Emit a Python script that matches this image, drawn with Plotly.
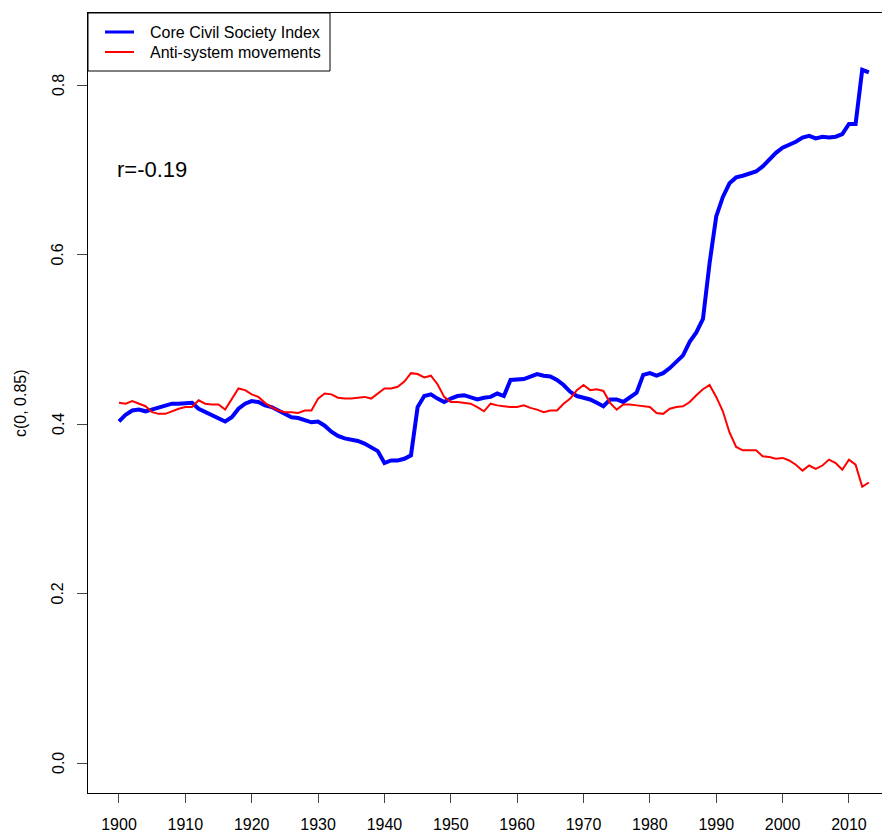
import plotly.graph_objects as go

years = list(range(1900, 2014))

core_civil_society = [
    0.403, 0.411, 0.416, 0.417, 0.415, 0.417, 0.419, 0.421, 0.424, 0.424,  # 1900-1909
    0.424, 0.425, 0.418, 0.414, 0.410, 0.406, 0.403, 0.408, 0.418, 0.424,  # 1910-1919
    0.427, 0.426, 0.422, 0.420, 0.416, 0.411, 0.408, 0.407, 0.405, 0.402,  # 1920-1929
    0.403, 0.398, 0.391, 0.386, 0.383, 0.382, 0.380, 0.377, 0.373, 0.368,  # 1930-1939
    0.354, 0.357, 0.357, 0.359, 0.363, 0.420, 0.433, 0.435, 0.430, 0.426,  # 1940-1949
    0.430, 0.433, 0.434, 0.432, 0.429, 0.431, 0.432, 0.436, 0.433, 0.452,  # 1950-1959
    0.452, 0.453, 0.456, 0.459, 0.457, 0.456, 0.452, 0.446, 0.438, 0.433,  # 1960-1969
    0.431, 0.429, 0.425, 0.421, 0.429, 0.429, 0.426, 0.431, 0.437, 0.458,  # 1970-1979
    0.460, 0.457, 0.460, 0.466, 0.473, 0.481, 0.497, 0.508, 0.524, 0.590,  # 1980-1989
    0.645, 0.668, 0.684, 0.691, 0.693, 0.696, 0.698, 0.704, 0.712, 0.720,  # 1990-1999
    0.726, 0.729, 0.733, 0.738, 0.740, 0.737, 0.739, 0.738, 0.739, 0.742,  # 2000-2009
    0.754, 0.754, 0.818, 0.815,                                            # 2010-2013
]

anti_system = [
    0.425, 0.424, 0.427, 0.424, 0.421, 0.414, 0.412, 0.412, 0.415, 0.418,  # 1900-1909
    0.420, 0.420, 0.428, 0.424, 0.423, 0.423, 0.417, 0.430, 0.442, 0.440,  # 1910-1919
    0.435, 0.432, 0.425, 0.420, 0.416, 0.414, 0.414, 0.413, 0.416, 0.416,  # 1920-1929
    0.430, 0.436, 0.435, 0.431, 0.430, 0.430, 0.431, 0.432, 0.430, 0.436,  # 1930-1939
    0.442, 0.442, 0.444, 0.450, 0.460, 0.459, 0.455, 0.457, 0.447, 0.432,  # 1940-1949
    0.426, 0.426, 0.425, 0.424, 0.420, 0.415, 0.424, 0.422, 0.421, 0.420,  # 1950-1959
    0.420, 0.422, 0.419, 0.417, 0.414, 0.416, 0.416, 0.424, 0.430, 0.440,  # 1960-1969
    0.446, 0.440, 0.441, 0.439, 0.425, 0.417, 0.423, 0.423, 0.422, 0.421,  # 1970-1979
    0.420, 0.413, 0.412, 0.418, 0.420, 0.421, 0.426, 0.434, 0.441, 0.446,  # 1980-1989
    0.432, 0.415, 0.390, 0.373, 0.369, 0.369, 0.369, 0.362, 0.361, 0.359,  # 1990-1999
    0.360, 0.357, 0.352, 0.345, 0.351, 0.347, 0.351, 0.358, 0.354, 0.346,  # 2000-2009
    0.358, 0.352, 0.326, 0.331,                                            # 2010-2013
]

series_names = ["Core Civil Society Index", "Anti-system movements"]
series_colors = ["#0000FF", "#FF0000"]
series_widths = [4, 2]

x_ticks = list(range(1900, 2011, 10))
y_ticks = [0.0, 0.2, 0.4, 0.6, 0.8]
y_tick_labels = ["0.0", "0.2", "0.4", "0.6", "0.8"]
y_axis_label = "c(0, 0.85)"
corr_label = "r=-0.19"

# page body has an 8px margin; figure positioned at (8, 8)
OFF = 8
W, H = 890 - OFF, 835 - OFF
ML, MR, MT, MB = 88 - OFF, 0, 13 - OFF, 835 - 793
PW, PH = W - ML - MR, H - MT - MB
FONT = "Liberation Sans, Arial, sans-serif"


def px_x(p):
    # p in page pixels (reference coordinates)
    return (p - OFF - ML) / PW


def px_y(p):
    return 1 - (p - OFF - MT) / PH


fig = go.Figure()
for name, vals, col, lw in zip(series_names, [core_civil_society, anti_system],
                               series_colors, series_widths):
    fig.add_trace(go.Scatter(x=years, y=vals, mode="lines", name=name,
                             line=dict(color=col, width=lw), showlegend=False))

shapes = [
    dict(type="rect", xref="paper", yref="paper",
         x0=px_x(88), x1=px_x(330), y0=px_y(71), y1=px_y(13),
         line=dict(color="black", width=1), fillcolor="white", layer="above"),
]
annotations = []
leg_rows = [32, 52]
for name, col, lw, row in zip(series_names, series_colors, series_widths, leg_rows):
    shapes.append(dict(type="line", xref="paper", yref="paper",
                       x0=px_x(105), x1=px_x(134), y0=px_y(row), y1=px_y(row),
                       line=dict(color=col, width=lw if lw < 3 else 3), layer="above"))
    annotations.append(dict(text=name, xref="paper", yref="paper",
                            x=px_x(148), y=px_y(row), xanchor="left", yanchor="middle",
                            showarrow=False, font=dict(size=16, color="black", family=FONT)))

annotations.append(dict(text=corr_label, x=1905, y=0.70, xref="x", yref="y",
                        showarrow=False, xanchor="center", yanchor="middle",
                        font=dict(size=22, color="black", family=FONT)))
annotations.append(dict(text=y_axis_label, xref="paper", yref="paper",
                        x=px_x(20), y=0.5, textangle=-90, showarrow=False,
                        xanchor="center", yanchor="middle",
                        font=dict(size=16, color="black", family=FONT)))
for v, t in zip(y_ticks, y_tick_labels):
    annotations.append(dict(text=t, xref="paper", yref="y", x=px_x(58), y=v,
                            textangle=-90, showarrow=False, xanchor="center",
                            yanchor="middle",
                            font=dict(size=16, color="black", family=FONT)))

x0_year = 1895.33
fig.update_layout(
    width=W, height=H,
    margin=dict(l=ML, r=MR, t=MT, b=MB, pad=0),
    paper_bgcolor="white", plot_bgcolor="white",
    font=dict(family=FONT, size=16, color="black"),
    shapes=shapes, annotations=annotations,
    xaxis=dict(range=[x0_year, x0_year + PW / 6.636], tickvals=x_ticks,
               ticks="outside", ticklen=9, tickwidth=1, tickcolor="#444",
               showline=True, linecolor="black", linewidth=1, mirror=True,
               showgrid=False, zeroline=False,
               tickfont=dict(size=16, color="black", family=FONT),
               ticklabelstandoff=8),
    yaxis=dict(range=[-0.0354, 0.885], tickvals=y_ticks,
               showticklabels=False, ticks="outside", ticklen=10, tickwidth=1,
               tickcolor="#444", showline=True, linecolor="black", linewidth=1,
               mirror=False, showgrid=False, zeroline=False),
)

fig.write_html("out.html")
